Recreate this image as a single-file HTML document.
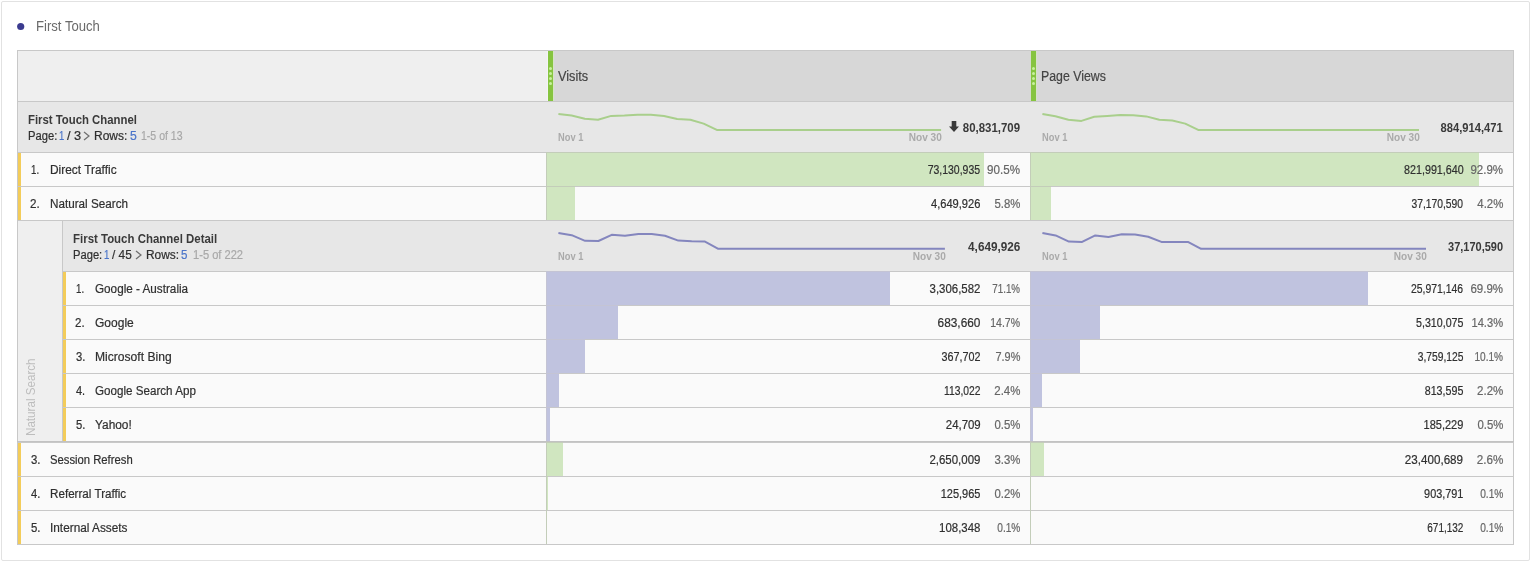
<!DOCTYPE html>
<html lang="en">
<head>
<meta charset="utf-8">
<title>First Touch</title>
<style>
*{box-sizing:border-box}
html,body{margin:0;padding:0}
body{width:1532px;height:563px;background:#fff;position:relative;overflow:hidden;font-family:"Liberation Sans",sans-serif;font-size:12px;color:#2f2f2f}
.frame{position:absolute;left:1px;top:1px;width:1529px;height:560px;border:1px solid #e2e2e2;border-radius:2px}
.title{position:absolute;left:0;top:10px;width:400px;height:30px}

.tbl{position:absolute;left:0;top:0;width:1532px;height:563px}
.row{position:absolute;left:17px;width:1497px;border-top:1px solid #c8c8c8;border-left:1px solid #c8c8c8;border-right:1px solid #c8c8c8;background:#fafafa}
.row>*{position:absolute}
.in{left:-18px;top:-1px;width:1532px;height:100%}
.in>*{position:absolute}
.t{position:absolute;white-space:nowrap;line-height:16px;height:16px;transform-origin:0 50%;font-size:12px;-webkit-text-stroke:.2px}
.t.s{font-size:10px;font-weight:700;-webkit-text-stroke:0}.t.h{font-size:14px}.t.b{font-weight:700;-webkit-text-stroke:0}
.g{color:#666}.lg{color:#aaa}.bl{color:#4b75c9}.hd{color:#3a3a3a}.mg{color:#a8a8a8}.hd2{color:#444}.ti{color:#6a6a6a;-webkit-text-stroke:0}
.hdr{background:#d7d7d7}
.tot{background:#e7e7e7}
.corner{left:18px;top:1px;width:529px;height:50px;background:#efefef}
.handle{top:1px;width:5px;height:50px;background:#86c440}
.handle i{position:absolute;left:1px;width:3px;height:3px;border-radius:50%;background:#c9f09f}
.hl{top:1px;width:1px;height:50px}
.yb{top:1px;width:3px;height:33px;background:#f3cc5a}
.vb{top:0;width:1px;height:34px;background:#c8c8c8}
.bar{top:0;height:34px;border-top:1px solid;border-left:1px solid}
.bg{background:#d0e6c0;border-color:#c3cdb9}
.bp{background:#c0c3df;border-color:#c4c4d4}
.gut{left:18px;top:221px;width:44px;height:220px;background:#efefef;position:absolute}
.gutb{left:62px;top:220px;width:1px;height:222px;background:#c8c8c8;position:absolute}
.vt{position:absolute;left:0;top:0;transform-origin:0 0;color:#bdbdbd;white-space:nowrap;line-height:16px;height:16px;font-size:12px}
.spark{left:0;top:0}
.ic{position:absolute}
.endb{position:absolute;left:17px;top:441px;width:1497px;height:2px;background:#c2c2c2}
.botb{position:absolute;left:17px;top:544px;width:1497px;height:1px;background:#c8c8c8}
</style>
</head>
<body>
<div class="frame"></div>
<div class="title"><svg class="ic" style="left:16px;top:12px" width="10" height="10" viewBox="0 0 10 10"><circle cx="4.7" cy="4.5" r="3.6" fill="#3b3b8f"/></svg><span class="t h ti" style="top:8px;left:35.7px;transform:scaleX(0.936)">First Touch</span></div>
<div class="tbl">
<div class="row hdr" style="top:50px;height:51px"><div class="in"><div class="corner"></div><div class="handle" style="left:548px"><i style="top:16px"></i><i style="top:21px"></i><i style="top:26px"></i><i style="top:31px"></i></div><div class="handle" style="left:1031px"><i style="top:16px"></i><i style="top:21px"></i><i style="top:26px"></i><i style="top:31px"></i></div><div class="hl" style="left:547px;background:#f3f3f5"></div><div class="hl" style="left:553px;background:#d6e6c4"></div><div class="hl" style="left:1030px;background:#d4dccb"></div><div class="hl" style="left:1036px;background:#d6e2ca"></div><span class="t h hd2" style="top:18px;left:558.4px;transform:scaleX(0.907)">Visits</span><span class="t h hd2" style="top:18px;left:1040.8px;transform:scaleX(0.880)">Page Views</span></div></div>
<div class="row tot" style="top:101px;height:51px"><div class="in"><svg class="spark" width="1532" height="51" viewBox="0 0 1532 51"><polyline points="558.4,12.9 571.6,14.5 584.8,17.7 598.0,18.7 611.2,14.9 624.4,14.5 637.6,13.7 650.8,13.7 664.0,14.9 677.2,17.9 690.4,18.7 703.6,22.6 716.8,28.9 730.0,28.9 743.2,28.9 756.3,28.9 769.5,28.9 782.7,28.9 795.9,28.9 809.1,28.9 822.3,28.9 835.5,28.9 848.7,28.9 861.9,28.9 875.1,28.9 888.3,28.9 901.5,28.9 914.7,28.9 927.9,28.9 941.1,28.9" fill="none" stroke="#a9cf8c" stroke-width="2" stroke-linejoin="round"/></svg><svg class="spark" width="1532" height="51" viewBox="0 0 1532 51"><polyline points="1042.4,12.9 1055.4,15.2 1068.4,18.7 1081.4,19.9 1094.3,15.8 1107.3,14.9 1120.3,13.9 1133.3,14.2 1146.3,15.4 1159.3,18.7 1172.3,19.5 1185.2,22.6 1198.2,28.9 1211.2,28.9 1224.2,28.9 1237.2,28.9 1250.2,28.9 1263.2,28.9 1276.2,28.9 1289.1,28.9 1302.1,28.9 1315.1,28.9 1328.1,28.9 1341.1,28.9 1354.1,28.9 1367.1,28.9 1380.0,28.9 1393.0,28.9 1406.0,28.9 1419.0,28.9" fill="none" stroke="#a9cf8c" stroke-width="2" stroke-linejoin="round"/></svg><svg class="ic" style="left:83px;top:30.1px" width="8" height="10" viewBox="0 0 8 10"><path d="M1 .9 6 5 1 9.1" fill="none" stroke="#707070" stroke-width="1.25"/></svg><svg class="ic" style="left:949px;top:20px" width="10" height="11" viewBox="0 0 10 11"><path d="M2.7 0h4.6v5.4H10L5 11 0 5.4h2.7z" fill="#3a3a3a"/></svg><span class="t b hd" style="top:11px;left:27.7px;transform:scaleX(0.946)">First Touch Channel</span><span class="t" style="top:27px;left:27.5px;transform:scaleX(0.934)">Page:</span><span class="t bl" style="top:27px;left:59.2px;transform:scaleX(0.791)">1</span><span class="t" style="top:27px;left:66.6px;transform:scaleX(1.066)">/ 3</span><span class="t" style="top:27px;left:94.1px;transform:scaleX(0.999)">Rows:</span><span class="t bl" style="top:27px;left:129.6px;transform:scaleX(1.015)">5</span><span class="t mg" style="top:27px;left:141.1px;transform:scaleX(0.878)">1-5 of 13</span><span class="t s lg" style="top:29px;left:557.8px;transform:scaleX(0.930)">Nov 1</span><span class="t s lg" style="top:29px;right:590.7px;transform-origin:100% 50%;transform:scaleX(1.007)">Nov 30</span><span class="t s lg" style="top:29px;left:1041.8px;transform:scaleX(0.930)">Nov 1</span><span class="t s lg" style="top:29px;right:112.6px;transform-origin:100% 50%;transform:scaleX(1.007)">Nov 30</span><span class="t b hd" style="top:19px;right:511.6px;transform-origin:100% 50%;transform:scaleX(0.953)">80,831,709</span><span class="t b hd" style="top:19px;right:28.8px;transform-origin:100% 50%;transform:scaleX(0.933)">884,914,471</span></div></div>
<div class="row " style="top:152px;height:34px"><div class="in"><div class="yb" style="left:18px"></div><div class="vb" style="left:546px"></div><div class="vb" style="left:1030px"></div><div class="bar bg" style="left:546px;width:438px"></div><div class="bar bg" style="left:1030px;width:449px"></div><span class="t" style="top:10px;left:30.8px;transform:scaleX(0.807)">1.</span><span class="t" style="top:10px;left:49.5px;transform:scaleX(0.992)">Direct Traffic</span><span class="t" style="top:10px;right:551.6px;transform-origin:100% 50%;transform:scaleX(0.873)">73,130,935</span><span class="t g" style="top:10px;right:511.7px;transform-origin:100% 50%;transform:scaleX(0.967)">90.5%</span><span class="t" style="top:10px;right:68.7px;transform-origin:100% 50%;transform:scaleX(0.895)">821,991,640</span><span class="t g" style="top:10px;right:28.7px;transform-origin:100% 50%;transform:scaleX(0.958)">92.9%</span></div></div>
<div class="row " style="top:186px;height:34px"><div class="in"><div class="yb" style="left:18px"></div><div class="vb" style="left:546px"></div><div class="vb" style="left:1030px"></div><div class="bar bg" style="left:546px;width:29px"></div><div class="bar bg" style="left:1030px;width:21px"></div><span class="t" style="top:10px;left:30.4px;transform:scaleX(0.969)">2.</span><span class="t" style="top:10px;left:49.5px;transform:scaleX(0.975)">Natural Search</span><span class="t" style="top:10px;right:551.5px;transform-origin:100% 50%;transform:scaleX(0.926)">4,649,926</span><span class="t g" style="top:10px;right:511.7px;transform-origin:100% 50%;transform:scaleX(0.947)">5.8%</span><span class="t" style="top:10px;right:68.7px;transform-origin:100% 50%;transform:scaleX(0.859)">37,170,590</span><span class="t g" style="top:10px;right:28.7px;transform-origin:100% 50%;transform:scaleX(0.951)">4.2%</span></div></div>
<div class="row tot" style="top:220px;height:51px"><div class="in"><svg class="spark" width="1532" height="51" viewBox="0 0 1532 51"><polyline points="558.4,12.9 571.7,15.2 585.1,20.8 598.4,21.0 611.7,14.8 625.0,15.8 638.4,13.9 651.7,13.9 665.0,15.8 678.3,20.6 691.7,21.3 705.0,21.6 718.3,28.8 731.7,28.8 745.0,28.8 758.3,28.8 771.6,28.8 785.0,28.8 798.3,28.8 811.6,28.8 825.0,28.8 838.3,28.8 851.6,28.8 864.9,28.8 878.3,28.8 891.6,28.8 904.9,28.8 918.2,28.8 931.6,28.8 944.9,28.8" fill="none" stroke="#8486be" stroke-width="2" stroke-linejoin="round"/></svg><svg class="spark" width="1532" height="51" viewBox="0 0 1532 51"><polyline points="1042.4,12.9 1055.6,15.4 1068.9,21.6 1082.1,21.9 1095.3,15.4 1108.5,16.9 1121.8,14.2 1135.0,14.4 1148.2,16.7 1161.4,21.9 1174.7,21.9 1187.9,21.9 1201.1,28.8 1214.4,28.8 1227.6,28.8 1240.8,28.8 1254.0,28.8 1267.3,28.8 1280.5,28.8 1293.7,28.8 1307.0,28.8 1320.2,28.8 1333.4,28.8 1346.6,28.8 1359.9,28.8 1373.1,28.8 1386.3,28.8 1399.5,28.8 1412.8,28.8 1426.0,28.8" fill="none" stroke="#8486be" stroke-width="2" stroke-linejoin="round"/></svg><svg class="ic" style="left:134.6px;top:30.1px" width="8" height="10" viewBox="0 0 8 10"><path d="M1 .9 6 5 1 9.1" fill="none" stroke="#707070" stroke-width="1.25"/></svg><span class="t b hd" style="top:11px;left:73.0px;transform:scaleX(0.954)">First Touch Channel Detail</span><span class="t" style="top:27px;left:72.8px;transform:scaleX(0.931)">Page:</span><span class="t bl" style="top:27px;left:103.9px;transform:scaleX(0.809)">1</span><span class="t" style="top:27px;left:112.0px;transform:scaleX(0.988)">/ 45</span><span class="t" style="top:27px;left:145.9px;transform:scaleX(0.993)">Rows:</span><span class="t bl" style="top:27px;left:181.2px;transform:scaleX(0.963)">5</span><span class="t mg" style="top:27px;left:193.4px;transform:scaleX(0.926)">1-5 of 222</span><span class="t s lg" style="top:29px;left:557.8px;transform:scaleX(0.930)">Nov 1</span><span class="t s lg" style="top:29px;right:586.7px;transform-origin:100% 50%;transform:scaleX(1.007)">Nov 30</span><span class="t s lg" style="top:29px;left:1041.8px;transform:scaleX(0.930)">Nov 1</span><span class="t s lg" style="top:29px;right:105.6px;transform-origin:100% 50%;transform:scaleX(1.007)">Nov 30</span><span class="t b hd" style="top:19px;right:511.6px;transform-origin:100% 50%;transform:scaleX(0.980)">4,649,926</span><span class="t b hd" style="top:19px;right:28.5px;transform-origin:100% 50%;transform:scaleX(0.916)">37,170,590</span></div></div>
<div class="row " style="top:271px;height:34px"><div class="in"><div class="yb" style="left:63px"></div><div class="vb" style="left:546px"></div><div class="vb" style="left:1030px"></div><div class="bar bp" style="left:546px;width:344px"></div><div class="bar bp" style="left:1030px;width:338px"></div><span class="t" style="top:10px;left:75.7px;transform:scaleX(0.807)">1.</span><span class="t" style="top:10px;left:94.9px;transform:scaleX(0.976)">Google - Australia</span><span class="t" style="top:10px;right:551.5px;transform-origin:100% 50%;transform:scaleX(0.952)">3,306,582</span><span class="t g" style="top:10px;right:511.7px;transform-origin:100% 50%;transform:scaleX(0.813)">71.1%</span><span class="t" style="top:10px;right:68.6px;transform-origin:100% 50%;transform:scaleX(0.866)">25,971,146</span><span class="t g" style="top:10px;right:28.7px;transform-origin:100% 50%;transform:scaleX(0.958)">69.9%</span></div></div>
<div class="row " style="top:305px;height:34px"><div class="in"><div class="yb" style="left:63px"></div><div class="vb" style="left:546px"></div><div class="vb" style="left:1030px"></div><div class="bar bp" style="left:546px;width:72px"></div><div class="bar bp" style="left:1030px;width:70px"></div><span class="t" style="top:10px;left:75.4px;transform:scaleX(0.957)">2.</span><span class="t" style="top:10px;left:94.8px;transform:scaleX(1.001)">Google</span><span class="t" style="top:10px;right:551.7px;transform-origin:100% 50%;transform:scaleX(0.986)">683,660</span><span class="t g" style="top:10px;right:511.7px;transform-origin:100% 50%;transform:scaleX(0.875)">14.7%</span><span class="t" style="top:10px;right:68.6px;transform-origin:100% 50%;transform:scaleX(0.887)">5,310,075</span><span class="t g" style="top:10px;right:28.7px;transform-origin:100% 50%;transform:scaleX(0.927)">14.3%</span></div></div>
<div class="row " style="top:339px;height:34px"><div class="in"><div class="yb" style="left:63px"></div><div class="vb" style="left:546px"></div><div class="vb" style="left:1030px"></div><div class="bar bp" style="left:546px;width:39px"></div><div class="bar bp" style="left:1030px;width:50px"></div><span class="t" style="top:10px;left:75.5px;transform:scaleX(0.936)">3.</span><span class="t" style="top:10px;left:95.0px;transform:scaleX(1.008)">Microsoft Bing</span><span class="t" style="top:10px;right:551.6px;transform-origin:100% 50%;transform:scaleX(0.898)">367,702</span><span class="t g" style="top:10px;right:511.7px;transform-origin:100% 50%;transform:scaleX(0.908)">7.9%</span><span class="t" style="top:10px;right:68.6px;transform-origin:100% 50%;transform:scaleX(0.855)">3,759,125</span><span class="t g" style="top:10px;right:28.7px;transform-origin:100% 50%;transform:scaleX(0.841)">10.1%</span></div></div>
<div class="row " style="top:373px;height:34px"><div class="in"><div class="yb" style="left:63px"></div><div class="vb" style="left:546px"></div><div class="vb" style="left:1030px"></div><div class="bar bp" style="left:546px;width:13px"></div><div class="bar bp" style="left:1030px;width:12px"></div><span class="t" style="top:10px;left:75.7px;transform:scaleX(0.916)">4.</span><span class="t" style="top:10px;left:94.9px;transform:scaleX(0.969)">Google Search App</span><span class="t" style="top:10px;right:551.6px;transform-origin:100% 50%;transform:scaleX(0.858)">113,022</span><span class="t g" style="top:10px;right:511.7px;transform-origin:100% 50%;transform:scaleX(0.953)">2.4%</span><span class="t" style="top:10px;right:68.6px;transform-origin:100% 50%;transform:scaleX(0.891)">813,595</span><span class="t g" style="top:10px;right:28.7px;transform-origin:100% 50%;transform:scaleX(0.961)">2.2%</span></div></div>
<div class="row " style="top:407px;height:34px"><div class="in"><div class="yb" style="left:63px"></div><div class="vb" style="left:546px"></div><div class="vb" style="left:1030px"></div><div class="bar bp" style="left:546px;width:4px"></div><div class="bar bp" style="left:1030px;width:3px"></div><span class="t" style="top:10px;left:75.5px;transform:scaleX(0.936)">5.</span><span class="t" style="top:10px;left:95.2px;transform:scaleX(0.990)">Yahoo!</span><span class="t" style="top:10px;right:551.5px;transform-origin:100% 50%;transform:scaleX(0.951)">24,709</span><span class="t g" style="top:10px;right:511.7px;transform-origin:100% 50%;transform:scaleX(0.947)">0.5%</span><span class="t" style="top:10px;right:68.6px;transform-origin:100% 50%;transform:scaleX(0.918)">185,229</span><span class="t g" style="top:10px;right:28.7px;transform-origin:100% 50%;transform:scaleX(0.947)">0.5%</span></div></div>
<div class="gut"></div><div class="gutb"></div>
<span class="vt" style="transform:translate(23.3px,436px) rotate(-90deg) scaleX(0.969)">Natural Search</span>
<div class="endb"></div>
<div class="row " style="top:442px;height:34px"><div class="in"><div class="yb" style="left:18px"></div><div class="vb" style="left:546px"></div><div class="vb" style="left:1030px"></div><div class="bar bg" style="left:546px;width:17px"></div><div class="bar bg" style="left:1030px;width:14px"></div><span class="t" style="top:10px;left:30.5px;transform:scaleX(0.947)">3.</span><span class="t" style="top:10px;left:50.0px;transform:scaleX(0.939)">Session Refresh</span><span class="t" style="top:10px;right:551.5px;transform-origin:100% 50%;transform:scaleX(0.955)">2,650,009</span><span class="t g" style="top:10px;right:511.7px;transform-origin:100% 50%;transform:scaleX(0.947)">3.3%</span><span class="t" style="top:10px;right:68.5px;transform-origin:100% 50%;transform:scaleX(0.969)">23,400,689</span><span class="t g" style="top:10px;right:28.7px;transform-origin:100% 50%;transform:scaleX(0.972)">2.6%</span></div></div>
<div class="row " style="top:476px;height:34px"><div class="in"><div class="yb" style="left:18px"></div><div class="vb" style="left:546px"></div><div class="vb" style="left:1030px"></div><div class="bar bg" style="left:546px;width:2px"></div><div class="bar bg" style="left:1030px;width:1px"></div><span class="t" style="top:10px;left:30.7px;transform:scaleX(0.927)">4.</span><span class="t" style="top:10px;left:49.5px;transform:scaleX(0.971)">Referral Traffic</span><span class="t" style="top:10px;right:551.6px;transform-origin:100% 50%;transform:scaleX(0.914)">125,965</span><span class="t g" style="top:10px;right:511.7px;transform-origin:100% 50%;transform:scaleX(0.947)">0.2%</span><span class="t" style="top:10px;right:68.6px;transform-origin:100% 50%;transform:scaleX(0.905)">903,791</span><span class="t g" style="top:10px;right:28.7px;transform-origin:100% 50%;transform:scaleX(0.849)">0.1%</span></div></div>
<div class="row " style="top:510px;height:34px"><div class="in"><div class="yb" style="left:18px"></div><div class="vb" style="left:546px"></div><div class="vb" style="left:1030px"></div><div class="bar bg" style="left:546px;width:1px"></div><div class="bar bg" style="left:1030px;width:1px"></div><span class="t" style="top:10px;left:30.5px;transform:scaleX(0.947)">5.</span><span class="t" style="top:10px;left:49.5px;transform:scaleX(0.984)">Internal Assets</span><span class="t" style="top:10px;right:551.5px;transform-origin:100% 50%;transform:scaleX(0.952)">108,348</span><span class="t g" style="top:10px;right:511.7px;transform-origin:100% 50%;transform:scaleX(0.845)">0.1%</span><span class="t" style="top:10px;right:68.6px;transform-origin:100% 50%;transform:scaleX(0.832)">671,132</span><span class="t g" style="top:10px;right:28.7px;transform-origin:100% 50%;transform:scaleX(0.849)">0.1%</span></div></div>
<div class="botb"></div>
</div>
</body>
</html>
